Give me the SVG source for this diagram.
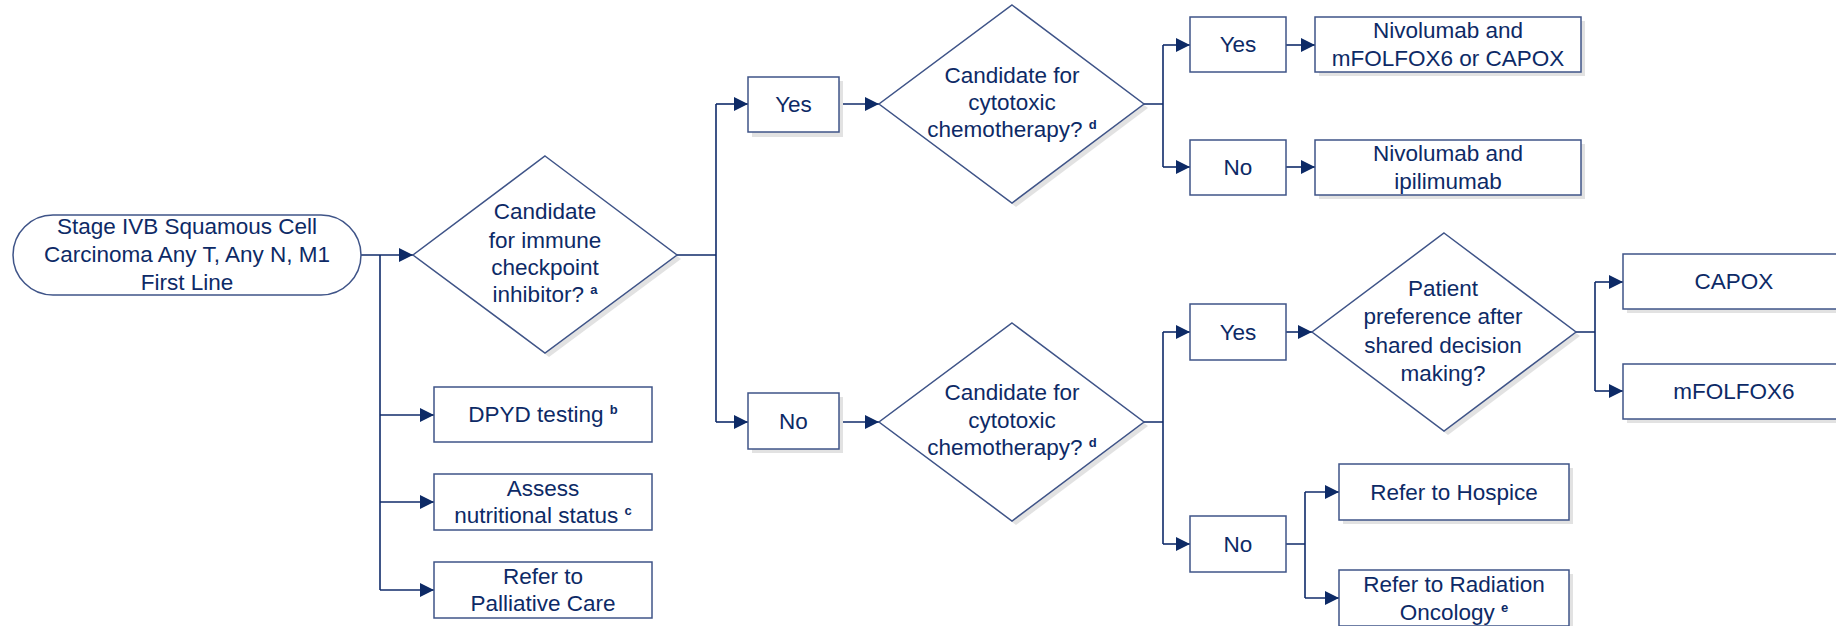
<svg xmlns="http://www.w3.org/2000/svg" width="1836" height="626" viewBox="0 0 1836 626">
<style>
.bx{fill:#ffffff;stroke:#3f5488;stroke-width:1.5}
.sh{fill:#e2e2e2;stroke:none}
.cn{fill:none;stroke:#102b6a;stroke-width:1.6}
text{font-family:"Liberation Sans",Arial,sans-serif;font-size:22.5px;fill:#0d2a66;text-anchor:middle}
.sup{font-size:13px;font-weight:bold}
</style>
<defs>
<marker id="arr" markerWidth="14" markerHeight="14" refX="14" refY="7" orient="auto" markerUnits="userSpaceOnUse"><path d="M0,0 L14,7 L0,14 z" fill="#0d2a66"/></marker>
</defs>
<rect width="1836" height="626" fill="#ffffff"/>
<g id="connectors">
<path class="cn" d="M361,255 H413" marker-end="url(#arr)"/>
<path class="cn" d="M380,255 V590"/>
<path class="cn" d="M380,415 H434" marker-end="url(#arr)"/>
<path class="cn" d="M380,502 H434" marker-end="url(#arr)"/>
<path class="cn" d="M380,590 H434" marker-end="url(#arr)"/>
<path class="cn" d="M677,255 H716 M716,104 V422"/>
<path class="cn" d="M716,104 H748" marker-end="url(#arr)"/>
<path class="cn" d="M716,422 H748" marker-end="url(#arr)"/>
<path class="cn" d="M839,104 H879" marker-end="url(#arr)"/>
<path class="cn" d="M839,422 H879" marker-end="url(#arr)"/>
<path class="cn" d="M1144,104 H1163 M1163,45 V167"/>
<path class="cn" d="M1163,45 H1190" marker-end="url(#arr)"/>
<path class="cn" d="M1163,167 H1190" marker-end="url(#arr)"/>
<path class="cn" d="M1286,45 H1315" marker-end="url(#arr)"/>
<path class="cn" d="M1286,167 H1315" marker-end="url(#arr)"/>
<path class="cn" d="M1144,422 H1163 M1163,332 V544"/>
<path class="cn" d="M1163,332 H1190" marker-end="url(#arr)"/>
<path class="cn" d="M1163,544 H1190" marker-end="url(#arr)"/>
<path class="cn" d="M1286,332 H1312" marker-end="url(#arr)"/>
<path class="cn" d="M1576,332 H1595 M1595,282 V391"/>
<path class="cn" d="M1595,282 H1623" marker-end="url(#arr)"/>
<path class="cn" d="M1595,391 H1623" marker-end="url(#arr)"/>
<path class="cn" d="M1286,544 H1305 M1305,492 V598"/>
<path class="cn" d="M1305,492 H1339" marker-end="url(#arr)"/>
<path class="cn" d="M1305,598 H1339" marker-end="url(#arr)"/>
</g>
<g id="start">
<rect class="bx" x="13" y="215" width="348" height="80" rx="40" ry="40"/>
<text x="187" y="234">Stage IVB Squamous Cell</text>
<text x="187" y="262">Carcinoma Any T, Any N, M1</text>
<text x="187" y="290">First Line</text>
</g>
<g id="d1">
<polygon class="sh" points="549,160 681,259 549,357 417,259"/>
<polygon class="bx" points="545,156 677,255 545,353 413,255"/>
<text x="545" y="219">Candidate</text>
<text x="545" y="248">for immune</text>
<text x="545" y="275">checkpoint</text>
<text x="545" y="302">inhibitor? <tspan class="sup" dy="-8">a</tspan></text>
</g>
<g id="dpyd">
<rect class="bx" x="434" y="387" width="218" height="55"/>
<text x="543" y="422">DPYD testing <tspan class="sup" dy="-8">b</tspan></text>
</g>
<g id="assess">
<rect class="bx" x="434" y="474" width="218" height="56"/>
<text x="543" y="496">Assess</text>
<text x="543" y="523">nutritional status <tspan class="sup" dy="-8">c</tspan></text>
</g>
<g id="palliative">
<rect class="bx" x="434" y="562" width="218" height="56"/>
<text x="543" y="584">Refer to</text>
<text x="543" y="611">Palliative Care</text>
</g>
<g id="yes1">
<rect class="sh" x="752" y="81" width="91" height="56"/>
<rect class="bx" x="748" y="77" width="91" height="55"/>
<text x="793.5" y="112">Yes</text>
</g>
<g id="no1">
<rect class="sh" x="752" y="397" width="91" height="56"/>
<rect class="bx" x="748" y="393" width="91" height="56"/>
<text x="793.5" y="429">No</text>
</g>
<g id="d2">
<polygon class="sh" points="1016,9 1148,108 1016,207 884,108"/>
<polygon class="bx" points="1012,5 1144,104 1012,203 879,104"/>
<text x="1012" y="83">Candidate for</text>
<text x="1012" y="110">cytotoxic</text>
<text x="1012" y="137">chemotherapy? <tspan class="sup" dy="-8">d</tspan></text>
</g>
<g id="d3">
<polygon class="sh" points="1016,327 1148,426 1016,525 884,426"/>
<polygon class="bx" points="1012,323 1144,422 1012,521 879,422"/>
<text x="1012" y="400">Candidate for</text>
<text x="1012" y="428">cytotoxic</text>
<text x="1012" y="455">chemotherapy? <tspan class="sup" dy="-8">d</tspan></text>
</g>
<g id="yes2">
<rect class="bx" x="1190" y="17" width="96" height="55"/>
<text x="1238" y="52">Yes</text>
</g>
<g id="no2">
<rect class="bx" x="1190" y="140" width="96" height="55"/>
<text x="1238" y="175">No</text>
</g>
<g id="nivo-chemo">
<rect class="sh" x="1319" y="21" width="266" height="55"/>
<rect class="bx" x="1315" y="17" width="266" height="55"/>
<text x="1448" y="38">Nivolumab and</text>
<text x="1448" y="66">mFOLFOX6 or CAPOX</text>
</g>
<g id="nivo-ipi">
<rect class="sh" x="1319" y="144" width="266" height="55"/>
<rect class="bx" x="1315" y="140" width="266" height="55"/>
<text x="1448" y="161">Nivolumab and</text>
<text x="1448" y="189">ipilimumab</text>
</g>
<g id="yes3">
<rect class="bx" x="1190" y="304" width="96" height="56"/>
<text x="1238" y="340">Yes</text>
</g>
<g id="no3">
<rect class="bx" x="1190" y="516" width="96" height="56"/>
<text x="1238" y="552">No</text>
</g>
<g id="d4">
<polygon class="sh" points="1448,237 1580,336 1448,435 1316,336"/>
<polygon class="bx" points="1444,233 1576,332 1444,431 1312,332"/>
<text x="1443" y="296">Patient</text>
<text x="1443" y="324">preference after</text>
<text x="1443" y="353">shared decision</text>
<text x="1443" y="381">making?</text>
</g>
<g id="capox">
<rect class="sh" x="1627" y="258" width="222" height="55"/>
<rect class="bx" x="1623" y="254" width="222" height="55"/>
<text x="1734" y="289">CAPOX</text>
</g>
<g id="mfolfox6">
<rect class="sh" x="1627" y="368" width="222" height="55"/>
<rect class="bx" x="1623" y="364" width="222" height="55"/>
<text x="1734" y="399">mFOLFOX6</text>
</g>
<g id="hospice">
<rect class="sh" x="1343" y="468" width="230" height="56"/>
<rect class="bx" x="1339" y="464" width="230" height="56"/>
<text x="1454" y="500">Refer to Hospice</text>
</g>
<g id="radiation">
<rect class="sh" x="1343" y="574" width="230" height="56"/>
<rect class="bx" x="1339" y="570" width="230" height="56"/>
<text x="1454" y="592">Refer to Radiation</text>
<text x="1454" y="620">Oncology <tspan class="sup" dy="-8">e</tspan></text>
</g>
</svg>
